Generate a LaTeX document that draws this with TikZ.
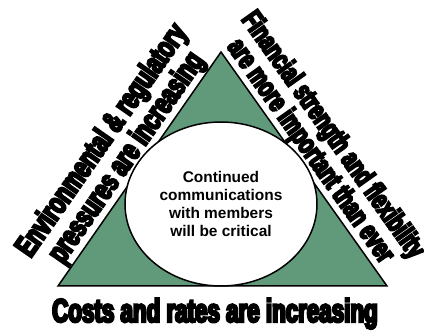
\documentclass[tikz,border=0pt]{standalone}
\usepackage{fontspec}
\usetikzlibrary{shapes.geometric}
\setmainfont{Liberation Sans}
\newfontfamily\heavyfont[FakeBold=7,FakeStretch=0.68]{Liberation Sans Bold}
\definecolor{pyramidgreen}{RGB}{96,154,122}
\tikzset{
  heading/.style={font=\heavyfont\fontsize{31}{30}\selectfont, inner sep=0pt, align=center},
  outline/.style={draw=black, line width=1.5bp},
}
\begin{document}
\begin{tikzpicture}[x=1bp,y=1bp]
  \useasboundingbox (0,0) rectangle (424,331);
  \coordinate (top) at (221,279);
  \coordinate (left) at (58,45);
  \coordinate (right) at (387,45);
  \draw[outline, fill=pyramidgreen] (left) -- (top) -- (right) -- cycle;
  \node[outline, ellipse, fill=white, minimum width=192bp, minimum height=164bp,
        inner sep=0pt, align=center, font=\bfseries\fontsize{15.5}{18}\selectfont]
    (hub) at (221,127) {Continued\\communications\\with members\\will be critical};
  \path (left) -- node[heading, sloped, above=1.5bp, xshift=2bp] (pressures)
    {Environmental \& regulatory\\pressures are increasing} (top);
  \path (top) -- node[heading, font=\heavyfont\fontsize{28.5}{27.5}\selectfont,
        sloped, above=1.5bp, xshift=-11bp] (finance)
    {Financial strength and flexibility\\are more important than ever} (right);
  \node[heading, font=\heavyfont\fontsize{33}{30}\selectfont, anchor=base]
    (costs) at (215,9) {Costs and rates are increasing};
\end{tikzpicture}
\end{document}
